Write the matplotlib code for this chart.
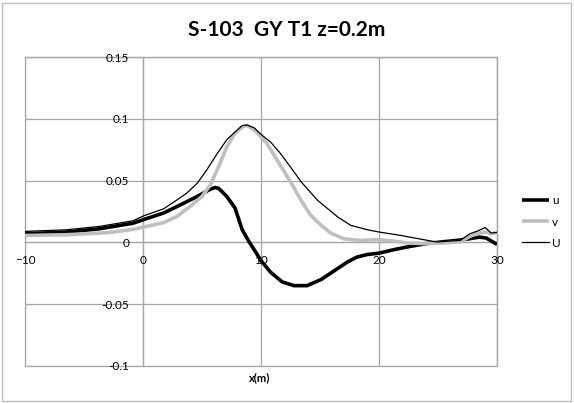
import matplotlib
matplotlib.use("Agg")
import matplotlib.pyplot as plt
from matplotlib.patches import Rectangle

title = "S-103  GY T1 z=0.2m"
xlabel = "x(m)"
xticks = [-10, 0, 10, 20, 30]
yticks = [-0.1, -0.05, 0, 0.05, 0.1, 0.15]
yticklabels = ["-0.1", "-0.05", "0", "0.05", "0.1", "0.15"]

u_x = [-10, -6.5, -3.7, -0.85, 0.06, 1.75, 3.2, 4.6, 5.7, 6.1, 6.4, 7.1, 7.8, 8.4, 8.95, 9.4, 10, 10.8, 11.8,
       12.8, 13.9, 15.1, 16.2, 17.3, 18.1, 19.0, 20, 21.2, 22.6, 24.0, 25.4, 26.6, 27.7, 28.5, 29.1, 30]
u_y = [0.007, 0.0083, 0.011, 0.0155, 0.0185, 0.0238, 0.0305, 0.0372, 0.043, 0.0444, 0.0438, 0.0372,
       0.0278, 0.0104, 0.0011, -0.0056, -0.0147, -0.024, -0.032, -0.035, -0.035, -0.030, -0.023, -0.016,
       -0.012, -0.0098, -0.0087, -0.006, -0.0033, -0.001, 0.0005, 0.0016, 0.003, 0.0043, 0.0035, -0.0016]

v_x = [-10, -6.5, -3.7, -2.6, -0.85, 0.06, 1.75, 2.9, 4.0, 5.0, 5.7, 6.4, 7.1, 7.8, 8.4, 8.8, 9.5, 10.5,
       11.6, 12.5, 13.4, 14.2, 15.1, 15.9, 17.0, 18.4, 20, 21.2, 22.4, 23.8, 25.4, 26.9, 27.7, 28.5, 29.1, 29.5, 30]
v_y = [0.0056, 0.0062, 0.0075, 0.0083, 0.0105, 0.0125, 0.016, 0.0211, 0.0291, 0.0372, 0.0465, 0.0612,
       0.0773, 0.088, 0.0933, 0.0947, 0.0906, 0.080, 0.063, 0.049, 0.034, 0.022, 0.0138, 0.0076, 0.003,
       0.0016, 0.0022, 0.0011, -0.0005, -0.001, -0.0005, 0.0005, 0.0049, 0.0076, 0.0084, 0.007, 0.008]

U_x = [-10, -6.5, -3.7, -0.85, 0.06, 1.75, 2.9, 3.7, 4.6, 5.4, 6.3, 7.1, 7.7, 8.4, 8.8, 9.4, 10.1, 10.8,
       11.6, 12.5, 13.4, 14.8, 16.5, 17.6, 19.0, 20, 21.8, 23.8, 24.9, 26.0, 26.9, 27.7, 28.3, 29.0, 29.5, 30]
U_y = [0.0089, 0.0102, 0.0129, 0.0175, 0.0215, 0.0272, 0.0345, 0.0398, 0.0479, 0.0586, 0.072, 0.083,
       0.0885, 0.0945, 0.095, 0.0928, 0.0866, 0.0813, 0.0725, 0.061, 0.049, 0.034, 0.0206, 0.0138,
       0.0103, 0.0084, 0.0057, 0.0022, 0.0003, 0.0011, 0.0016, 0.007, 0.009, 0.012, 0.0076, 0.0081]

plt.rcParams['font.family'] = ['Lato', 'DejaVu Sans']

W, H = 574, 403
fig = plt.figure(figsize=(W / 100, H / 100), dpi=100)
fig.patches.append(Rectangle((2 / W, 2 / H), (W - 5) / W, (H - 5) / H, transform=fig.transFigure,
                             facecolor='none', edgecolor='#BFBFBF', linewidth=1.0))

ax = fig.add_axes([25 / W, 1 - 366 / H, (497 - 25) / W, (366 - 57) / H])
grid_c = '#A6A6A6'
ax.plot(u_x, u_y, color='black', lw=2.6, label='u', solid_capstyle='butt')
ax.plot(v_x, v_y, color='#BFBFBF', lw=2.6, label='v', solid_capstyle='butt')
ax.plot(U_x, U_y, color='black', lw=0.9, label='U')

ax.set_xlim(-10, 30)
ax.set_ylim(-0.1, 0.15)
ax.set_xticks(xticks)
ax.set_yticks(yticks)
ax.set_yticklabels(yticklabels)
ax.grid(True, color=grid_c, lw=0.9)
ax.set_axisbelow(True)
for s in ['top', 'right']:
    ax.spines[s].set_color(grid_c)
    ax.spines[s].set_linewidth(0.9)
    ax.spines[s].set_zorder(0.2)
ax.spines['left'].set_position(('data', 0))
ax.spines['bottom'].set_position(('data', 0))
for s in ['left', 'bottom']:
    ax.spines[s].set_color(grid_c)
    ax.spines[s].set_linewidth(0.9)
    ax.spines[s].set_zorder(0.2)
ax.add_patch(Rectangle((0, 0), 1, 1, transform=ax.transAxes, fill=False, edgecolor=grid_c, lw=0.9,
                       clip_on=False, zorder=0.2))
ax.tick_params(axis='both', length=0, labelsize=8.5, colors='black')
ax.tick_params(axis='x', pad=9)
ax.tick_params(axis='y', pad=10)

fig.text(260 / W, 1 - 378 / H, xlabel, ha='center', va='center', fontsize=8, fontweight='bold')
fig.text(287 / W, 1 - 30 / H, title, ha='center', va='center', fontsize=15, fontweight='bold')

leg = ax.legend(loc='center left', bbox_to_anchor=(522 / W, 1 - 222 / H), bbox_transform=fig.transFigure,
                frameon=False, fontsize=8.5, handlelength=2.3, handletextpad=0.25, labelspacing=0.85,
                borderaxespad=0, borderpad=0)

fig.savefig('out.png', dpi=100)
